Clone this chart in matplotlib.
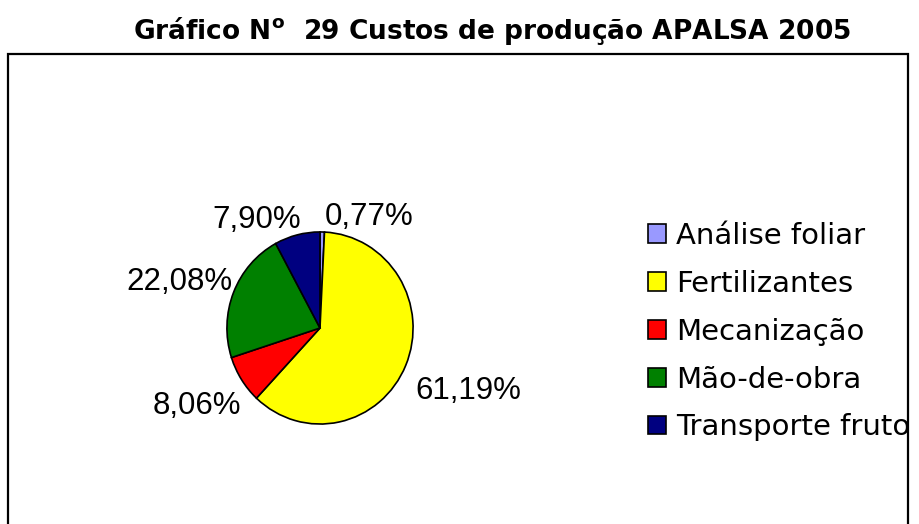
import numpy as np
import matplotlib
matplotlib.use("Agg")
import matplotlib.pyplot as plt
from matplotlib.patches import Rectangle

categories = ["Análise foliar", "Fertilizantes", "Mecanização", "Mão-de-obra", "Transporte fruto"]
values = [0.77, 61.19, 8.06, 22.08, 7.90]
pct_labels = ["0,77%", "61,19%", "8,06%", "22,08%", "7,90%"]
colors = ["#9999FF", "#FFFF00", "#FF0000", "#008000", "#000080"]
title = "Gráfico N$^{\\mathbf{o}}$  29 Custos de produção APALSA 2005"

W, H = 919, 524
fig = plt.figure(figsize=(W / 100, H / 100), dpi=100)
fig.patch.set_facecolor("white")

# outer frame (bottom edge lies outside the image)
fig.patches.append(Rectangle((8 / W, -0.05), 900 / W, (H - 54) / H + 0.05,
                             transform=fig.transFigure, fill=False,
                             edgecolor="black", linewidth=1.6, clip_on=False))

fig.text(492 / W, 1 - 31 / H, title, ha="center", va="center",
         fontsize=19, fontweight="bold", family="DejaVu Sans")

cx, cy, rx, ry = 320, 328, 94, 97
ax = fig.add_axes([(cx - rx) / W, (H - cy - ry) / H, 2 * rx / W, 2 * ry / H])
wedges, _ = ax.pie(values, colors=colors, startangle=90, counterclock=False,
                   radius=1.0, wedgeprops=dict(edgecolor="black", linewidth=1.2))
ax.set_xlim(-1.01, 1.01)
ax.set_ylim(-1.01, 1.01)
ax.set_aspect("auto")
ax.axis("off")

for w, lab in zip(wedges, pct_labels):
    mid = np.deg2rad((w.theta1 + w.theta2) / 2)
    c, s = np.cos(mid), np.sin(mid)
    d = 1.08
    ha = "left" if c > 0 else "right"
    va = "bottom" if s > 0 else "top"
    ax.text(d * c + (0.03 if c > 0 else 0.06), d * s - 0.08, lab, ha=ha, va=va,
            fontsize=22.5, family="Liberation Sans", clip_on=False)

leg = fig.legend(wedges, categories, loc="upper left",
                 bbox_to_anchor=(648 / W, 1 - 222 / H), bbox_transform=fig.transFigure,
                 frameon=False, prop=dict(family="DejaVu Sans", size=21),
                 handlelength=0.61, handleheight=0.61, handletextpad=0.34,
                 labelspacing=0.68, borderpad=0, borderaxespad=0)
for h in leg.legend_handles:
    h.set_edgecolor("black")
    h.set_linewidth(1.2)

fig.savefig("out.png", dpi=100)
